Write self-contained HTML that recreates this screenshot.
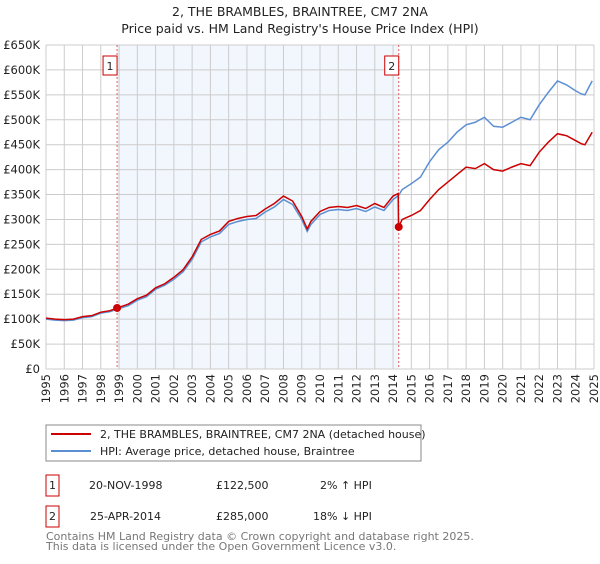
<!DOCTYPE html>
<html><head><meta charset="utf-8"><style>
body{margin:0;background:#fff;font-family:"DejaVu Sans","Liberation Sans",sans-serif;}
svg text{font-family:"DejaVu Sans","Liberation Sans",sans-serif;}
</style></head><body>
<svg id="chart" width="600" height="560" xmlns="http://www.w3.org/2000/svg">
<text x="300" y="16" text-anchor="middle" font-size="12.5" fill="#222">2, THE BRAMBLES, BRAINTREE, CM7 2NA</text>
<text x="300" y="33" text-anchor="middle" font-size="12.5" fill="#222">Price paid vs. HM Land Registry's House Price Index (HPI)</text>
<g id="plot"></g>
<g>
<rect x="46" y="425" width="375" height="36" fill="#fff" stroke="#888"/>
<line x1="51" y1="434" x2="91" y2="434" stroke="#cc0000" stroke-width="2"/>
<text x="100" y="438" font-size="11" fill="#222">2, THE BRAMBLES, BRAINTREE, CM7 2NA (detached house)</text>
<line x1="51" y1="451" x2="91" y2="451" stroke="#5b8fd4" stroke-width="2"/>
<text x="100" y="455" font-size="11" fill="#222">HPI: Average price, detached house, Braintree</text>
</g>
<g font-size="11" fill="#222">
<rect x="46" y="475" width="13" height="21" fill="none" stroke="#cc0000"/>
<text x="52.5" y="489" text-anchor="middle">1</text>
<text x="89" y="489">20-NOV-1998</text>
<text x="216" y="489">£122,500</text>
<text x="320" y="489">2% ↑ HPI</text>
<rect x="46" y="506" width="13" height="21" fill="none" stroke="#cc0000"/>
<text x="52.5" y="520" text-anchor="middle">2</text>
<text x="90" y="520">25-APR-2014</text>
<text x="216" y="520">£285,000</text>
<text x="313" y="520">18% ↓ HPI</text>
</g>
<text x="46" y="540" font-size="11" fill="#777">Contains HM Land Registry data © Crown copyright and database right 2025.</text>
<text x="46" y="550" font-size="11" fill="#777">This data is licensed under the Open Government Licence v3.0.</text>
</svg>
<script>
const hpiYears=[1995,1995.5,1996,1996.5,1997,1997.5,1998,1998.5,1998.9,1999.5,2000,2000.5,2001,2001.5,2002,2002.5,2003,2003.5,2004,2004.5,2005,2005.5,2006,2006.5,2007,2007.5,2008,2008.5,2009,2009.3,2009.5,2010,2010.5,2011,2011.5,2012,2012.5,2013,2013.5,2014,2014.3,2014.5,2015,2015.5,2016,2016.5,2017,2017.5,2018,2018.5,2019,2019.5,2020,2020.5,2021,2021.5,2022,2022.5,2023,2023.5,2024,2024.3,2024.5,2024.9];
const hpiValues=[100,98,97,98,103,105,112,115,120,127,138,145,160,168,180,195,220,255,265,272,290,296,300,302,315,325,340,330,300,276,290,310,318,320,318,322,316,325,318,340,348,360,372,385,416,440,455,475,490,495,505,487,485,495,505,500,530,555,578,570,558,552,550,578];
const paidYears=[1995,1995.5,1996,1996.5,1997,1997.5,1998,1998.5,1998.9,1999.5,2000,2000.5,2001,2001.5,2002,2002.5,2003,2003.5,2004,2004.5,2005,2005.5,2006,2006.5,2007,2007.5,2008,2008.5,2009,2009.3,2009.5,2010,2010.5,2011,2011.5,2012,2012.5,2013,2013.5,2014,2014.28,2014.3,2014.5,2015,2015.5,2016,2016.5,2017,2017.5,2018,2018.5,2019,2019.5,2020,2020.5,2021,2021.5,2022,2022.5,2023,2023.5,2024,2024.3,2024.5,2024.9];
const paidValues=[102,100,99,100,105,107,114,117,122.5,130,141,148,163,171,184,199,225,260,270,277,296,302,306,308,321,332,347,337,306,281,296,316,324,326,324,328,322,332,324,347,352,285,300,308,318,340,360,375,390,405,402,412,400,397,405,412,408,435,455,472,468,458,452,450,475];
const sales=[[1998.89,122.5,"1"],[2014.31,285,"2"]];
const yTicks=[0,50,100,150,200,250,300,350,400,450,500,550,600,650];
const xTicks=[];for(let y=1995;y<=2025;y++)xTicks.push(y);
const L=46,R=594,T=45,B=369,NS="http://www.w3.org/2000/svg";
const xs=v=>L+(v-1995)/30*(R-L);
const ys=v=>B-v/650*(B-T);
const g=document.getElementById('plot');
function mk(t,a){const e=document.createElementNS(NS,t);for(const k in a)e.setAttribute(k,a[k]);g.appendChild(e);return e;}
const shade=mk('rect',{x:xs(sales[0][0]),y:T,width:xs(sales[1][0])-xs(sales[0][0]),height:B-T,fill:'#f2f6fd'});


yTicks.forEach(v=>{
 const l=mk('line',{x1:L,x2:R,y1:ys(v),y2:ys(v),stroke:'#ccc','stroke-width':1});
 
 
 const t=mk('text',{x:L-6,y:ys(v)+4,'text-anchor':'end','font-size':'11.5',fill:'#222'});
 t.textContent='£'+(v?v+'K':'0');
 
 
});
xTicks.forEach(v=>{
 const l=mk('line',{x1:xs(v),x2:xs(v),y1:T,y2:B,stroke:'#ccc','stroke-width':1});
 
 
 const t=mk('text',{x:0,y:0,'text-anchor':'end','font-size':'11.5',fill:'#222',transform:`translate(${xs(v)+4},${B+5}) rotate(-90)`});
 t.textContent=v;
 
 
});
sales.forEach(s=>{
 const l=mk('line',{x1:xs(s[0]),x2:xs(s[0]),y1:T,y2:B,stroke:'#e06060','stroke-width':1,'stroke-dasharray':'2,2'});
 
 
 const r=mk('rect',{x:xs(s[0])-14,y:56,width:14,height:19,fill:'#fff',stroke:'#cc0000'});
 
 
 const t=mk('text',{x:xs(s[0])-7,y:70,'text-anchor':'middle','font-size':'11',fill:'#222'});
 t.textContent=s[2];
 
 
});
const hp=mk('polyline',{points:hpiYears.map((y,i)=>xs(y)+','+ys(hpiValues[i])).join(' '),fill:'none',stroke:'#5b8fd4','stroke-width':1.5});


const pp=mk('polyline',{points:paidYears.map((y,i)=>xs(y)+','+ys(paidValues[i])).join(' '),fill:'none',stroke:'#cc0000','stroke-width':1.5});


sales.forEach(s=>{
 const c=mk('circle',{cx:xs(s[0]),cy:ys(s[1]),r:4,fill:'#cc0000'});
 
 
});
</script>
</body></html>
